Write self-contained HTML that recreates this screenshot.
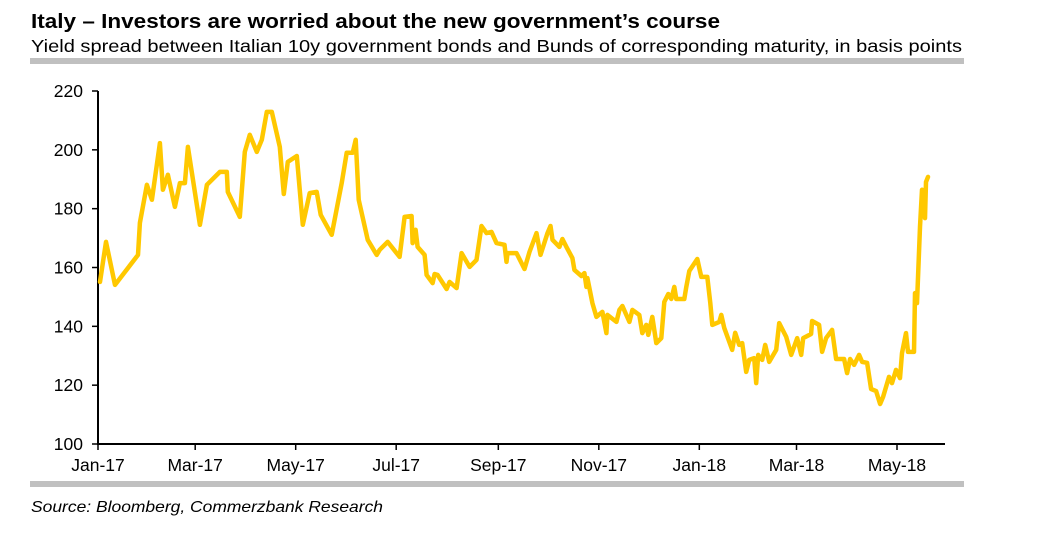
<!DOCTYPE html>
<html><head><meta charset="utf-8"><style>
body{margin:0;background:#fff;width:1041px;height:540px;overflow:hidden;font-family:"Liberation Sans",Arial,sans-serif}
svg{display:block}
</style></head><body>
<svg id="chart" width="1041" height="540" xmlns="http://www.w3.org/2000/svg" font-family="Liberation Sans, Arial, sans-serif">
<text x="31" y="28" font-size="20" font-weight="bold" fill="#000" textLength="689" lengthAdjust="spacingAndGlyphs">Italy – Investors are worried about the new government’s course</text>
<text x="31" y="52" font-size="17.5" fill="#000" textLength="931" lengthAdjust="spacingAndGlyphs">Yield spread between Italian 10y government bonds and Bunds of corresponding maturity, in basis points</text>
<rect x="30" y="58" width="934" height="6" fill="#c0c0c0"/>
<rect x="30" y="481" width="934" height="6" fill="#c0c0c0"/>
<text x="31" y="512" font-size="16" font-style="italic" fill="#000" textLength="352" lengthAdjust="spacingAndGlyphs">Source: Bloomberg, Commerzbank Research</text>
<g id="axes"></g>
<path id="line" fill="none" stroke="#FFC800" stroke-width="4.5" stroke-linejoin="round" stroke-linecap="round"/>
</svg>
<script>
const yTicks=[100,120,140,160,180,200,220];
const xTickLabels=["Jan-17","Mar-17","May-17","Jul-17","Sep-17","Nov-17","Jan-18","Mar-18","May-18"];
const xTickDays=[0,59,120,181,243,304,365,424,485];
const months=[0.04,0.16,0.34,0.80,0.84,0.98,1.08,1.24,1.30,1.40,1.54,1.64,1.74,1.80,2.04,2.18,2.44,2.58,2.60,2.84,2.94,3.04,3.18,3.28,3.38,3.48,3.64,3.72,3.80,3.98,4.10,4.24,4.38,4.46,4.68,4.88,4.98,5.10,5.16,5.22,5.40,5.58,5.64,5.80,6.04,6.14,6.28,6.30,6.36,6.40,6.54,6.58,6.70,6.74,6.80,6.98,7.04,7.18,7.28,7.44,7.58,7.68,7.78,7.88,7.98,8.14,8.18,8.20,8.38,8.54,8.64,8.78,8.86,9.00,9.06,9.10,9.24,9.30,9.38,9.50,9.54,9.68,9.74,9.78,9.80,9.90,9.98,10.10,10.18,10.20,10.38,10.44,10.50,10.64,10.70,10.84,10.90,10.98,11.02,11.10,11.18,11.28,11.34,11.42,11.48,11.54,11.58,11.74,11.78,11.84,12.00,12.04,12.08,12.20,12.26,12.30,12.44,12.48,12.54,12.70,12.76,12.84,12.90,12.98,13.04,13.14,13.18,13.22,13.30,13.36,13.44,13.58,13.64,13.78,13.88,14.00,14.08,14.12,14.28,14.30,14.44,14.50,14.58,14.70,14.78,14.94,15.00,15.06,15.14,15.24,15.30,15.40,15.48,15.58,15.66,15.72,15.84,15.90,15.98,16.06,16.10,16.18,16.22,16.34,16.36,16.40,16.46,16.50,16.56,16.58,16.62];
const spread=[155.1,168.7,154.1,164.3,175.2,188.1,183,202.3,186.4,191.5,180.6,188.7,188.7,201,174.5,188.1,192.5,192.5,185.7,177.2,199.3,205.1,199.3,203.4,212.9,212.9,201,185,195.9,197.9,174.5,185.3,185.7,177.9,171.1,188.7,199,199,203.4,183,169.4,164.3,166,168.7,163.6,177.2,177.5,168.3,172.8,167,164.3,157.5,154.7,157.8,157.5,152.7,155.1,153,164.9,160.2,162.6,174.1,171.7,172.1,168.3,167.7,161.9,164.9,164.9,159.5,165.3,171.7,164.3,171.7,174.1,169.4,167,169.7,167,163.2,159.2,157.1,158.1,153.4,156.4,147.9,143.2,144.9,137.7,143.9,141.5,145.6,146.9,141.5,145.6,143.9,137.7,140.5,137.1,143.2,134.3,136,148.3,151,149.3,153.4,149.3,149.3,153.4,158.8,162.9,159.8,156.8,156.8,147.9,140.5,141.5,143.9,139.5,132,137.8,133.7,134.3,124.5,128.6,129.2,120.7,130.3,128.6,133.7,127.9,132,141.1,136.4,130.3,136,130.3,136,137.4,141.8,140.5,131.3,136,138.8,128.9,128.9,124.1,128.9,126.9,130.3,127.9,127.6,118.7,118,113.6,116,122.8,120.7,125.2,122.4,130.9,137.7,131.3,131.3,151.3,147.9,173.8,186.4,176.8,189.1,190.8];

const X0=98,PX_PER_DAY=799/485,Y0=444,PX_PER_UNIT=353/120;
function xDay(d){return X0+d*PX_PER_DAY;}
function xMonth(m){return X0+m*49.94;}
function y(v){return Y0-(v-100)*PX_PER_UNIT;}
const NS="http://www.w3.org/2000/svg";
const g=document.getElementById('axes');
function mk(tag,attrs,txt){const e=document.createElementNS(NS,tag);for(const k in attrs)e.setAttribute(k,attrs[k]);if(txt!==undefined)e.textContent=txt;g.appendChild(e);return e;}
let e;
e=mk('line',{x1:X0,y1:y(220),x2:X0,y2:Y0,stroke:'#000','stroke-width':2});


e=mk('line',{x1:X0-1,y1:Y0,x2:945,y2:Y0,stroke:'#000','stroke-width':2});


yTicks.forEach(v=>{
  let t=mk('line',{x1:X0-6,y1:y(v),x2:X0,y2:y(v),stroke:'#000','stroke-width':1.5});
  
  
  let l=mk('text',{x:83,y:y(v)+6,'font-size':17.5,'text-anchor':'end',fill:'#000'},String(v));
  
  
});
xTickDays.forEach((d,i)=>{
  let t=mk('line',{x1:xDay(d),y1:Y0,x2:xDay(d),y2:Y0+6,stroke:'#000','stroke-width':1.5});
  
  
  let l=mk('text',{x:xDay(d),y:Y0+27,'font-size':17.5,'text-anchor':'middle',fill:'#000'},xTickLabels[i]);
  
  
});
let dstr=months.map((m,i)=>(i?'L':'M')+xMonth(m).toFixed(1)+','+y(spread[i]).toFixed(1)).join(' ');
document.getElementById('line').setAttribute('d',dstr);
</script>
</body></html>
